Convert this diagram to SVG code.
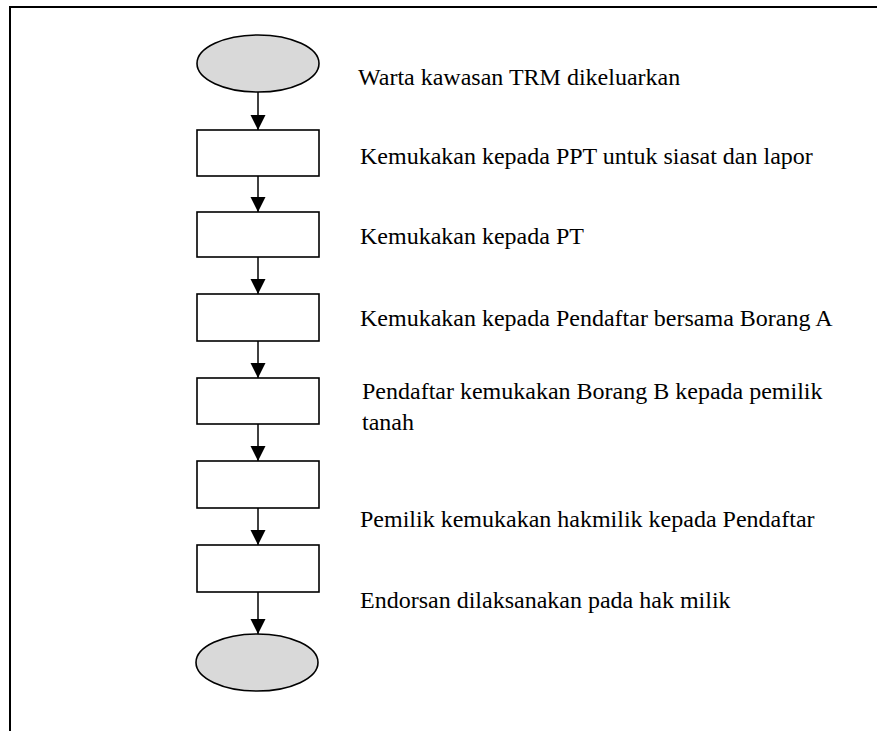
<svg xmlns="http://www.w3.org/2000/svg" width="877" height="731" viewBox="0 0 877 731">
<style>
.term{fill:#d9d9d9;stroke:#000;stroke-width:1.6}
.proc{fill:#fff;stroke:#000;stroke-width:1.6}
.lbl{font-family:"Liberation Serif","Times New Roman",serif;font-size:24px;fill:#000}
.conn{stroke:#000;stroke-width:1.5;fill:none;marker-end:url(#ah)}
.frame{stroke:#000;stroke-width:2;fill:none}
</style>
<defs>
<marker id="ah" markerUnits="userSpaceOnUse" markerWidth="15" markerHeight="16" refX="15" refY="7.5" orient="auto">
<path d="M0,0 L15,7.5 L0,15 Z" fill="#000"/>
</marker>
</defs>
<rect width="877" height="731" fill="#fff"/>
<path class="frame" d="M10,731 L10,7 L877,7"/>
<g id="connectors">
<line class="conn" x1="258" y1="92" x2="258" y2="130"/>
<line class="conn" x1="258" y1="176" x2="258" y2="212"/>
<line class="conn" x1="258" y1="257" x2="258" y2="294"/>
<line class="conn" x1="258" y1="341" x2="258" y2="378"/>
<line class="conn" x1="258" y1="424" x2="258" y2="461"/>
<line class="conn" x1="258" y1="508" x2="258" y2="545"/>
<line class="conn" x1="258" y1="592" x2="258" y2="634"/>
</g>
<g id="start"><ellipse class="term" cx="258" cy="63.5" rx="61" ry="28.5"/></g>
<g id="step1"><rect class="proc" x="197" y="130" width="122" height="46"/></g>
<g id="step2"><rect class="proc" x="197" y="212" width="122" height="45"/></g>
<g id="step3"><rect class="proc" x="197" y="294" width="122" height="47"/></g>
<g id="step4"><rect class="proc" x="197" y="378" width="122" height="46"/></g>
<g id="step5"><rect class="proc" x="197" y="461" width="122" height="47"/></g>
<g id="step6"><rect class="proc" x="197" y="545" width="122" height="47"/></g>
<g id="end"><ellipse class="term" cx="257" cy="662.5" rx="61" ry="28.5"/></g>
<g id="labels">
<text class="lbl" x="358" y="85">Warta kawasan TRM dikeluarkan</text>
<text class="lbl" x="360" y="164">Kemukakan kepada PPT untuk siasat dan lapor</text>
<text class="lbl" x="360" y="244">Kemukakan kepada PT</text>
<text class="lbl" x="360" y="326">Kemukakan kepada Pendaftar bersama Borang A</text>
<text class="lbl" x="362" y="399">Pendaftar kemukakan Borang B kepada pemilik</text>
<text class="lbl" x="362" y="430">tanah</text>
<text class="lbl" x="360" y="527">Pemilik kemukakan hakmilik kepada Pendaftar</text>
<text class="lbl" x="360" y="608">Endorsan dilaksanakan pada hak milik</text>
</g>
</svg>
